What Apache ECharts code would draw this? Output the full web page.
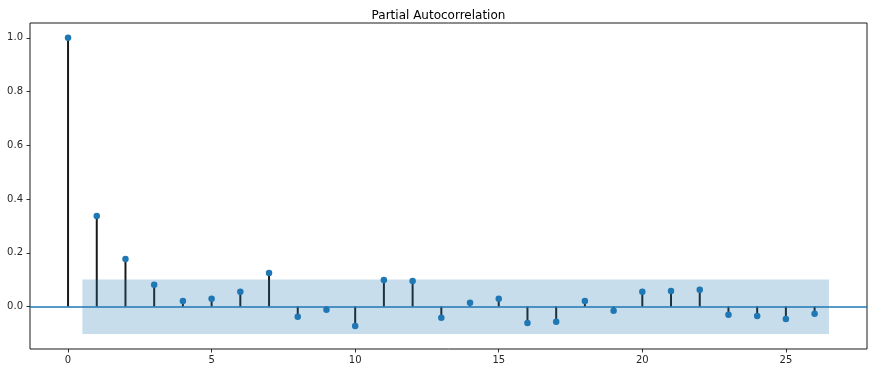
<!DOCTYPE html>
<html>
<head>
<meta charset="utf-8">
<script src="https://cdn.jsdelivr.net/npm/echarts@6/dist/echarts.min.js"></script>
<style>html,body{margin:0;padding:0;background:#fff}#c{width:877px;height:373px}</style>
</head>
<body>
<div id="c"></div>
<script>
// Data
var lags = [0,1,2,3,4,5,6,7,8,9,10,11,12,13,14,15,16,17,18,19,20,21,22,23,24,25,26];
var pacf = [1.0,0.337,0.177,0.081,0.021,0.029,0.055,0.125,-0.038,-0.012,-0.072,0.099,0.095,-0.042,0.014,0.029,-0.061,-0.057,0.021,-0.016,0.055,0.058,0.062,-0.031,-0.035,-0.046,-0.027];
var bandX = [0.5, 26.5];
var confUpper = [0.101, 0.101];
var confLower = [-0.102, -0.102];
var xTicks = [0,5,10,15,20,25];
var yTicks = [0,0.2,0.4,0.6,0.8,1.0];
var titleText = 'Partial Autocorrelation';

var pts = lags.map(function(l,i){return [l,pacf[i]];});
var band = [[bandX[0], confUpper[0], confLower[0]],[bandX[1], confUpper[1], confLower[1]]];
var font = 'DejaVu Sans';

var chart = echarts.init(document.getElementById('c'), null, {renderer:'canvas'});
chart.setOption({
  animation:false,
  backgroundColor:'#fff',
  title:{text:titleText,left:'center',top:5,textStyle:{fontFamily:font,fontSize:12,fontWeight:'normal',color:'#000'}},
  grid:{left:30,right:10,top:23,bottom:24,show:true,borderColor:'#1a1a1a',borderWidth:1,backgroundColor:'transparent'},
  xAxis:{type:'value',min:-1.325,max:27.825,
    axisLine:{show:false,onZero:false},
    splitLine:{show:false},
    axisTick:{show:true,inside:false,length:3.5,customValues:xTicks,lineStyle:{color:'#000',width:0.8}},
    axisLabel:{customValues:xTicks,margin:6,fontFamily:font,fontSize:10,color:'#262626',formatter:function(v){return String(v);}}
  },
  yAxis:{type:'value',min:-0.158,max:1.055,
    axisLine:{show:false,onZero:false},
    splitLine:{show:false},
    axisTick:{show:true,inside:false,length:3.5,customValues:yTicks,lineStyle:{color:'#000',width:0.8}},
    axisLabel:{customValues:yTicks,margin:7,fontFamily:font,fontSize:10,color:'#262626',formatter:function(v){return v.toFixed(1);}}
  },
  series:[
    {type:'custom',z:1,silent:true,data:pts,
      renderItem:function(params,api){
        var a=api.coord([api.value(0),0]);var b=api.coord([api.value(0),api.value(1)]);
        return {type:'line',shape:{x1:a[0],y1:a[1],x2:b[0],y2:b[1]},style:{stroke:'#1a1a1a',lineWidth:2}};
      },
      markLine:{silent:true,symbol:'none',label:{show:false},lineStyle:{color:'#1f77b4',width:1.6,type:'solid'},data:[{yAxis:0}]}
    },
    {type:'scatter',z:3,silent:true,data:pts,symbol:'circle',symbolSize:6.5,itemStyle:{color:'#1f77b4',opacity:1}},
    {type:'custom',z:4,silent:true,data:band,
      renderItem:function(params,api){
        if(params.dataIndex!==0) return null;
        var p1=api.coord([bandX[0],confUpper[0]]);var p2=api.coord([bandX[1],confUpper[1]]);
        var p3=api.coord([bandX[1],confLower[1]]);var p4=api.coord([bandX[0],confLower[0]]);
        return {type:'polygon',shape:{points:[p1,p2,p3,p4]},style:{fill:'rgba(31,119,180,0.25)'}};
      }
    }
  ]
});
</script>
</body>
</html>
